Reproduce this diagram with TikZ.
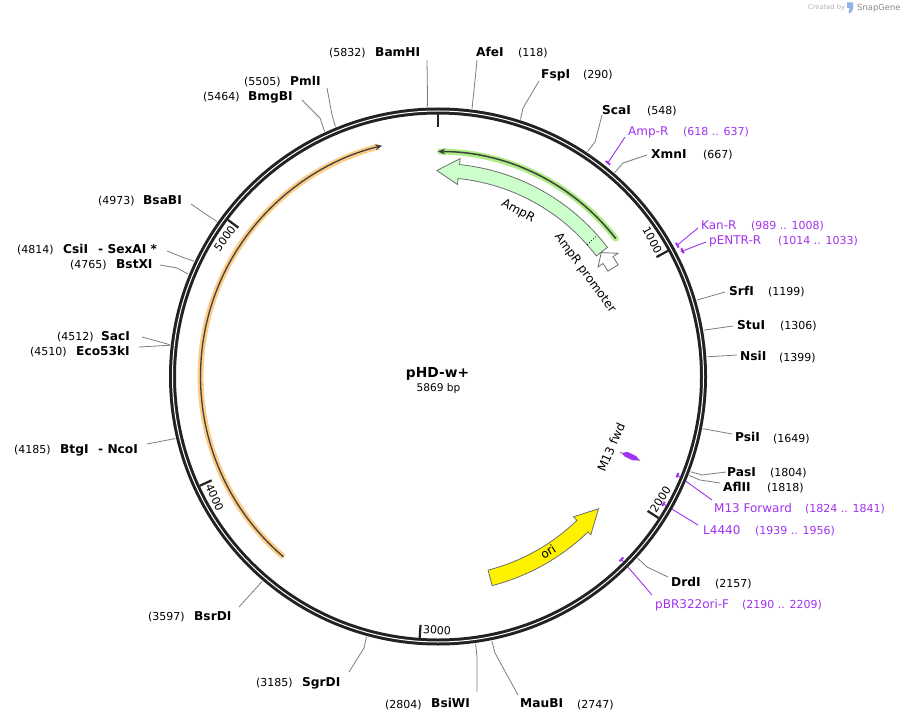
\documentclass[tikz,border=0pt]{standalone}
\usepackage{fontspec}
\setmainfont{DejaVu Sans}
\usetikzlibrary{arrows.meta,calc}
\definecolor{prim}{RGB}{160,50,240}
\definecolor{ringc}{RGB}{34,34,34}
\definecolor{leadc}{RGB}{125,125,125}
\definecolor{ampfill}{RGB}{204,255,204}
\definecolor{orfgreen}{RGB}{175,238,135}
\definecolor{orforange}{RGB}{253,205,135}
\definecolor{featgray}{RGB}{110,110,110}
\pgfmathdeclarefunction{pang}{1}{\pgfmathparse{#1*0.06133924-90}}
\tikzset{
  leader/.style={draw=leadc, line width=0.8pt},
  pleader/.style={draw=prim, line width=0.9pt},
  enz/.style={anchor=base west, inner sep=0pt, font=\fontsize{12.2}{14}\selectfont\bfseries},
  num/.style={anchor=base west, inner sep=0pt, font=\fontsize{11}{13}\selectfont},
  pname/.style={anchor=base west, inner sep=0pt, text=prim, font=\fontsize{12}{14}\selectfont},
  pnum/.style={anchor=base west, inner sep=0pt, text=prim, font=\fontsize{11}{13}\selectfont},
  ticklab/.style={inner sep=0pt, font=\fontsize{11}{13}\selectfont},
  featlab/.style={inner sep=0pt, font=\fontsize{12}{14}\selectfont},
  featline/.style={draw=featgray, line width=0.8pt},
  pmark/.style={draw=prim, line width=2pt},
}
\newcommand\rsite[4]{%
  \coordinate (r#1) at ($(O)+({pang(#2)}:270)$);
  \coordinate (k#1) at #3;
  \coordinate (e#1) at #4;
  \draw[leader] (r#1) -- (k#1) -- (e#1);}
\newcommand\psite[5]{%
  \coordinate (p#1) at ($(O)+({pang((#2+#3)/2)}:#4)$);
  \coordinate (q#1) at #5;
  \draw[pleader] (p#1) -- (q#1);}
\newcommand\pmarkarc[3]{%
  \draw[pmark] ($(O)+({pang(#1)}:#3)$) arc[start angle={pang(#1)}, end angle={pang(#2)}, radius=#3];}
\begin{document}
\begin{tikzpicture}[x=1pt,y=-1pt]
\useasboundingbox (0,0) rectangle (905,722);
\fill[white] (0,0) rectangle (905,722);
\coordinate (O) at (438,376.5);

% restriction site leaders
\rsite{BamHI}{5832}{(427.5,97)}{(427,60)}
\rsite{AfeI}{118}{(474,90)}{(477,60)}
\rsite{FspI}{290}{(523,108)}{(539,81)}
\rsite{ScaI}{548}{(595,142)}{(602,115)}
\rsite{XmnI}{667}{(623,163)}{(647,155)}
\rsite{SrfI}{1199}{(725,292)}{(725,292)}
\rsite{StuI}{1306}{(733,326)}{(733,326)}
\rsite{NsiI}{1399}{(737,355)}{(737,355)}
\rsite{PsiI}{1649}{(732,434)}{(732,434)}
\rsite{PasI}{1804}{(702,475)}{(726,472)}
\rsite{AflII}{1818}{(700,480)}{(720,483)}
\rsite{DrdI}{2157}{(647,567)}{(668,577)}
\rsite{MauBI}{2747}{(495,653)}{(518,695)}
\rsite{BsiWI}{2804}{(477,657)}{(477,692)}
\rsite{SgrDI}{3185}{(364,648)}{(349,672)}
\rsite{BsrDI}{3597}{(239,607)}{(239,607)}
\rsite{NcoI}{4185}{(147,444)}{(147,444)}
\rsite{SacI}{4512}{(142,337)}{(142,337)}
\rsite{EcoI}{4510}{(139,347)}{(139,347)}
\rsite{BstXI}{4765}{(177,268)}{(160,265)}
\rsite{CsiI}{4814}{(182,257)}{(167,251)}
\rsite{BsaBI}{4973}{(207,215)}{(191,204)}
\rsite{BmgBI}{5464}{(320,118)}{(302,100)}
\rsite{PmlI}{5505}{(332,115)}{(327,88)}

% primer leaders
\psite{AmpR}{618}{637}{273}{(625,137)}
\psite{KanR}{989}{1008}{273}{(698,228)}
\psite{pENTR}{1014}{1033}{273}{(706,242)}
\psite{M13F}{1824}{1841}{259}{(712,500)}
\psite{L4440}{1939}{1956}{259}{(698,525)}
\psite{pBR}{2190}{2209}{259}{(652,595)}

% backbone ring
\draw[ringc, line width=7pt] (O) circle[radius=265.5];
\draw[white, line width=1pt] (O) circle[radius=265.5];
\foreach \p in {0,1000,2000,3000,4000,5000}
  \draw[ringc, line width=2.2pt] ($(O)+({pang(\p)}:262)$) -- ($(O)+({pang(\p)}:249)$);

% tick labels
\node[ticklab, rotate=-61.34] (t1) at ($(O)+({pang(1000)-3.8}:254)$) {1000};
\node[ticklab, rotate=57.32]  (t2) at ($(O)+({pang(2000)-3.8}:254)$) {2000};
\node[ticklab, rotate=-4.04]  (t3) at ($(O)+({pang(3000)-3.8}:254)$) {3000};
\node[ticklab, rotate=-65.36] (t4) at ($(O)+({pang(4000)-3.8}:254)$) {4000};
\node[ticklab, rotate=53.3]   (t5) at ($(O)+({pang(5000)-3.8}:254)$) {5000};

% primer marks
\pmarkarc{618}{637}{273}
\pmarkarc{989}{1008}{273}
\pmarkarc{1014}{1033}{275}
\pmarkarc{1824}{1841}{259}
\pmarkarc{1939}{1956}{259}
\pmarkarc{2190}{2209}{259}

% features
\begin{scope}[shift={(O)}]
  % orange ORF arc
  \draw[orforange, line width=6pt] (130.6:237.5) arc[start angle=130.6, end angle=255.5, radius=237.5];
  \draw[black!75, line width=1.3pt, -{Stealth[length=7pt,width=6pt]}] (130.6:237.5) arc[start angle=130.6, end angle=256.4, radius=237.5];
  % green ORF arc
  \draw[orfgreen, line width=6pt, line cap=round] (-37.8:225) arc[start angle=-37.8, end angle=-89.5, radius=225];
  \draw[black!75, line width=1.5pt, -{Stealth[length=7pt,width=6pt]}] (-37.8:225) arc[start angle=-37.8, end angle=-90, radius=225];
  % AmpR
  \draw[featline, fill=ampfill] (-37.3:213) arc[start angle=-37.3, end angle=-84.2, radius=213]
     -- (-84.2:219) -- (-90.3:206) -- (-84.2:193) -- (-84.2:199)
     arc[start angle=-84.2, end angle=-37.3, radius=199] -- cycle;
  \draw[black, dotted, line width=0.8pt] (-41.5:199) -- (-41.5:213);
  % AmpR promoter
  \draw[featline, fill=white] (-31.8:212) arc[start angle=-31.8, end angle=-34.4, radius=212]
     -- (-34.4:218) -- (-37.2:205) -- (-34.4:194) -- (-34.4:200)
     arc[start angle=-34.4, end angle=-31.8, radius=200] -- cycle;
  % ori
  \draw[featline, fill=yellow] (75.5:216) arc[start angle=75.5, end angle=46, radius=216]
     -- (46:220) -- (39.5:208) -- (46:195) -- (46:200)
     arc[start angle=46, end angle=75.5, radius=200] -- cycle;
  % M13 fwd
  \draw[featgray, line width=0.7pt] (22.6:197) -- (22.6:219);
  \fill[prim] (22.6:199) -- (21.7:204) -- (21.9:214) -- (22.6:218) -- (23.3:212) -- (23.2:203) -- cycle;
  % feature labels
  \node[featlab, rotate=-29] (lAmpR) at (-64.2:183.8) {AmpR};
  \node[featlab, rotate=-54] (lProm) at (-35.1:179.6) {AmpR promoter};
  \node[featlab, rotate=32] (lori) at (57.9:207) {ori};
  \node[featlab, rotate=66] (lM13) at (22.3:187) {M13 fwd};
\end{scope}

% centre title
\node[anchor=base, inner sep=0pt, font=\fontsize{13.8}{16}\selectfont\bfseries] (title) at (437.5,377) {pHD-w+};
\node[anchor=base, inner sep=0pt, font=\fontsize{10.6}{12}\selectfont] (size) at (438.5,391) {5869 bp};

% enzyme labels
\node[num] (nBamHI) at (329,56.5) {(5832)};
\node[enz] (lBamHI) at (375,56.5) {BamHI};
\node[enz] (lAfeI) at (476,56.5) {AfeI};
\node[num] (nAfeI) at (518,56.5) {(118)};
\node[enz] (lFspI) at (541,78.5) {FspI};
\node[num] (nFspI) at (583,78.5) {(290)};
\node[enz] (lScaI) at (602,114.5) {ScaI};
\node[num] (nScaI) at (647,114.5) {(548)};
\node[enz] (lXmnI) at (651,158.5) {XmnI};
\node[num] (nXmnI) at (703,158.5) {(667)};
\node[enz] (lSrfI) at (729,295.5) {SrfI};
\node[num] (nSrfI) at (768,295.5) {(1199)};
\node[enz] (lStuI) at (737,329.5) {StuI};
\node[num] (nStuI) at (780,329.5) {(1306)};
\node[enz] (lNsiI) at (740,360.5) {NsiI};
\node[num] (nNsiI) at (779,361) {(1399)};
\node[enz] (lPsiI) at (735,441.5) {PsiI};
\node[num] (nPsiI) at (773,442) {(1649)};
\node[enz] (lPasI) at (727,476.5) {PasI};
\node[num] (nPasI) at (770,476.5) {(1804)};
\node[enz] (lAflII) at (723,491.5) {AflII};
\node[num] (nAflII) at (767,491.5) {(1818)};
\node[enz] (lDrdI) at (671,586.5) {DrdI};
\node[num] (nDrdI) at (715,587) {(2157)};
\node[enz] (lMauBI) at (520,707.5) {MauBI};
\node[num] (nMauBI) at (577,708) {(2747)};
\node[num] (nBsiWI) at (385,708) {(2804)};
\node[enz] (lBsiWI) at (431,707.5) {BsiWI};
\node[num] (nSgrDI) at (256,686.5) {(3185)};
\node[enz] (lSgrDI) at (302,686.5) {SgrDI};
\node[num] (nBsrDI) at (148,620.5) {(3597)};
\node[enz] (lBsrDI) at (194,620.5) {BsrDI};
\node[num] (nNcoI) at (14,453.5) {(4185)};
\node[enz] (lBtgI) at (60,453.5) {BtgI};
\node[enz] (lNcoI) at (98,453.5) {- NcoI};
\node[num] (nSacI) at (57,340.5) {(4512)};
\node[enz] (lSacI) at (101,340.5) {SacI};
\node[num] (nEcoI) at (30,355.5) {(4510)};
\node[enz] (lEcoI) at (76,355.5) {Eco53kI};
\node[num] (nBstXI) at (70,268.5) {(4765)};
\node[enz] (lBstXI) at (116,268.5) {BstXI};
\node[num] (nCsiI) at (17,253.5) {(4814)};
\node[enz] (lCsiI) at (63,253.5) {CsiI};
\node[enz] (lSexAI) at (98,253.5) {- SexAI *};
\node[num] (nBsaBI) at (98,204.5) {(4973)};
\node[enz] (lBsaBI) at (143,204.5) {BsaBI};
\node[num] (nBmgBI) at (203,100.5) {(5464)};
\node[enz] (lBmgBI) at (248,100.5) {BmgBI};
\node[num] (nPmlI) at (244,85.5) {(5505)};
\node[enz] (lPmlI) at (290,85.5) {PmlI};

% primer labels
\node[pname] (lAmpRp) at (628,135.5) {Amp-R};
\node[pnum] (nAmpRp) at (683,135.5) {(618 .. 637)};
\node[pname] (lKanR) at (701,229.5) {Kan-R};
\node[pnum] (nKanR) at (751,229.5) {(989 .. 1008)};
\node[pname] (lpENTR) at (709,244.5) {pENTR-R};
\node[pnum] (npENTR) at (778,244.5) {(1014 .. 1033)};
\node[pname] (lM13F) at (714,512.5) {M13 Forward};
\node[pnum] (nM13F) at (805,512.5) {(1824 .. 1841)};
\node[pname] (lL4440) at (703,534.5) {L4440};
\node[pnum] (nL4440) at (755,534.5) {(1939 .. 1956)};
\node[pname] (lpBR) at (655,608.5) {pBR322ori-F};
\node[pnum] (npBR) at (742,608.5) {(2190 .. 2209)};

% SnapGene credit
\node[anchor=base west, inner sep=0pt, text=black!30, font=\fontsize{6.7}{8}\selectfont] (cred) at (808,10) {Created by};
\fill[cyan!55!blue!45] (847,2.5) -- (853,2.5) -- (853,9) .. controls (853,12) and (850,13) .. (848.5,13.5) -- (849.5,8) -- (847,8) -- cycle;
\node[anchor=base west, inner sep=0pt, text=black!45, font=\fontsize{8.4}{10}\selectfont] (sg) at (857,10.5) {SnapGene};
\end{tikzpicture}
\end{document}
